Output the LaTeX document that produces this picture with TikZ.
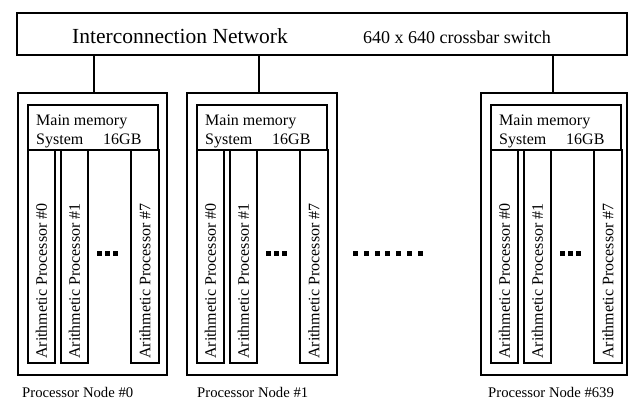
\documentclass[tikz,border=0pt]{standalone}
\usepackage{fontspec}
\setmainfont{Liberation Serif}
\begin{document}
\begin{tikzpicture}[x=1pt,y=-1pt,
  box/.style={draw,line width=1.8pt,inner sep=0pt,outer sep=0pt,anchor=north west},
  conn/.style={line width=1.8pt},
  memtxt/.style={anchor=base west,inner sep=0pt,font=\fontsize{16}{18}\selectfont},
  bartxt/.style={rotate=90,anchor=west,inner sep=0pt,font=\fontsize{16}{18}\selectfont},
  nodelabel/.style={anchor=base west,inner sep=0pt,font=\fontsize{14.7}{16}\selectfont},
  dot/.style={fill=black}]
\useasboundingbox (0,0) rectangle (630,400);
\node[box,minimum width=610pt,minimum height=42pt] (net) at (17,13) {};
\node[anchor=base,inner sep=0pt,font=\fontsize{21.5}{24}\selectfont] (nettext) at (180,43) {Interconnection Network};
\node[anchor=base,inner sep=0pt,font=\fontsize{18}{20}\selectfont] (xbar) at (457,43) {640 x 640 crossbar switch};
\foreach \n/\x/\w/\lx/\lsh in {0/18/149/22/1.5, 1/187/150/197/-3, 639/481/146/488/-1}{
  \node[box,minimum width=\w pt,minimum height=282pt] (n\n) at (\x,93) {};
  \node[box,minimum width=130pt,minimum height=45pt] (m\n) at (\x+10,105) {};
  \node[memtxt] (mt\n) at (\x+18,125) {Main memory};
  \node[memtxt] (ms\n) at (\x+18,144) {System};
  \node[memtxt] (mg\n) at (\x+85,144) {16GB};
  \node[box,minimum width=27pt,minimum height=213pt] (a\n-0) at (\x+10,150) {};
  \node[box,minimum width=27pt,minimum height=213pt] (a\n-1) at (\x+43,150) {};
  \node[box,minimum width=28pt,minimum height=213pt] (a\n-7) at (\x+113,150) {};
  \node[bartxt] (t\n-0) at (\x+23.5,359) {Arithmetic Processor \#0};
  \node[bartxt] (t\n-1) at (\x+56.5,359) {Arithmetic Processor \#1};
  \node[bartxt] (t\n-7) at (\x+127,359) {Arithmetic Processor \#7};
  \foreach \i in {0,1,2}{
    \fill[dot] (\x+79+\i*8,251) rectangle ++(5,4.5);
  }
  \node[nodelabel] (l\n) at (\lx,397) {Processor Node \#\n};
  \draw[conn] ([xshift=\lsh pt]n\n.north) -- ([xshift=\lsh pt]n\n.north |- net.south);
}
\foreach \i in {0,...,6}{
  \fill[dot] (353+\i*10.8,251) rectangle ++(5,4.5);
}
\end{tikzpicture}
\end{document}
